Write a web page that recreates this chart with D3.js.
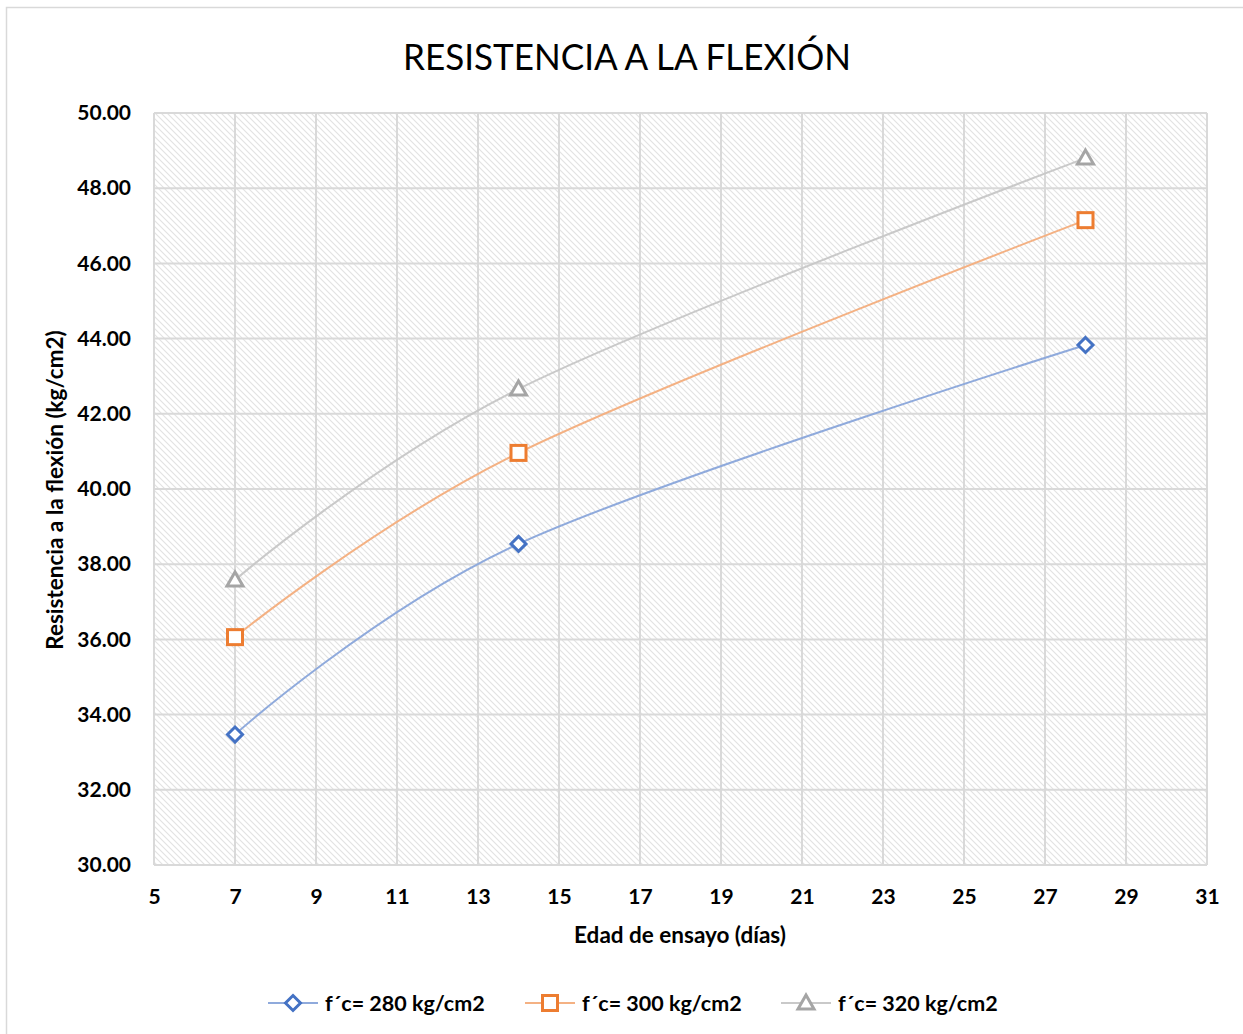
<!DOCTYPE html>
<html>
<head>
<meta charset="utf-8">
<script src="https://cdn.jsdelivr.net/npm/d3@7"></script>
<style>
  html, body { margin: 0; padding: 0; background: #fff; }
  svg { display: block; font-family: Lato, "Open Sans", sans-serif; }
</style>
</head>
<body>
<svg id="chart" width="1243" height="1034"></svg>
<script>
// Flexural strength by test age, one series per design strength
const ages = [7, 14, 28];
const s280 = [33.47, 38.54, 43.83];
const s300 = [36.06, 40.96, 47.15];
const s320 = [37.58, 42.66, 48.80];
const seriesNames = ["f\u00B4c= 280 kg/cm2", "f\u00B4c= 300 kg/cm2", "f\u00B4c= 320 kg/cm2"];
const xTicks = [5, 7, 9, 11, 13, 15, 17, 19, 21, 23, 25, 27, 29, 31];
const yTicks = [30, 32, 34, 36, 38, 40, 42, 44, 46, 48, 50];

const series = [
  { name: seriesNames[0], values: s280, marker: "#4472C4", line: "#8FAADC", shape: "diamond" },
  { name: seriesNames[1], values: s300, marker: "#ED7D31", line: "#F4B183", shape: "square" },
  { name: seriesNames[2], values: s320, marker: "#A5A5A5", line: "#C9C9C9", shape: "triangle" }
];

const svg = d3.select("#chart");
const W = 1243, H = 1034;
const plot = { left: 154, right: 1207, top: 113, bottom: 865 };

// outer chart frame
svg.append("rect").attr("x", 6.5).attr("y", 7.5).attr("width", W + 10).attr("height", H + 10)
  .attr("fill", "#fff").attr("stroke", "#d9d9d9").attr("stroke-width", 1.5);

// hatched plot background
const defs = svg.append("defs");
const pat = defs.append("pattern").attr("id", "hatch").attr("patternUnits", "userSpaceOnUse")
  .attr("width", 6).attr("height", 6);
pat.append("rect").attr("width", 6).attr("height", 6).attr("fill", "#fff");
pat.append("path").attr("d", "M-1,-1 L7,7 M-1,5 L1,7 M5,-1 L7,1")
  .attr("stroke", "#e2e2e2").attr("stroke-width", 1.1);

const x = d3.scaleLinear().domain([5, 31]).range([plot.left, plot.right]);
const y = d3.scaleLinear().domain([30, 50]).range([plot.bottom, plot.top]);

svg.append("rect").attr("x", plot.left).attr("y", plot.top)
  .attr("width", plot.right - plot.left).attr("height", plot.bottom - plot.top)
  .attr("fill", "url(#hatch)");

// gridlines
const grid = svg.append("g").attr("stroke", "#d9d9d9").attr("stroke-width", 2);
grid.selectAll(".gx").data(xTicks).join("line")
  .attr("x1", d => x(d)).attr("x2", d => x(d)).attr("y1", plot.top).attr("y2", plot.bottom);
grid.selectAll(".gy").data(yTicks).join("line")
  .attr("x1", plot.left).attr("x2", plot.right).attr("y1", d => y(d)).attr("y2", d => y(d));

// axes (labels only, Excel-style)
const xAxis = svg.append("g").attr("transform", `translate(0,${plot.bottom})`)
  .call(d3.axisBottom(x).tickValues(xTicks).tickSize(0).tickPadding(24).tickFormat(d3.format("d")));
const yAxis = svg.append("g").attr("transform", `translate(${plot.left},0)`)
  .call(d3.axisLeft(y).tickValues(yTicks).tickSize(0).tickPadding(23).tickFormat(d3.format(".2f")));
[xAxis, yAxis].forEach(a => {
  a.select(".domain").remove();
  a.selectAll("text").attr("font-family", "Lato, sans-serif").attr("font-weight", "bold")
    .attr("font-size", 21).attr("fill", "#000");
});

// titles
svg.append("text").attr("x", 627).attr("y", 70).attr("text-anchor", "middle")
  .attr("font-size", 37).attr("fill", "#000").attr("textLength", 448).attr("lengthAdjust", "spacingAndGlyphs")
  .text("RESISTENCIA A LA FLEXIÓN");
svg.append("text").attr("x", 680).attr("y", 943).attr("text-anchor", "middle")
  .attr("font-size", 22.5).attr("font-weight", "bold").attr("fill", "#000")
  .text("Edad de ensayo (días)");
svg.append("text").attr("transform", "translate(63,490) rotate(-90)").attr("text-anchor", "middle")
  .attr("font-size", 22.5).attr("font-weight", "bold").attr("fill", "#000")
  .text("Resistencia a la flexión (kg/cm2)");

// marker shapes
function marker(sel, shape, color) {
  if (shape === "diamond") {
    sel.append("path").attr("d", "M0,-7.5 L7.5,0 L0,7.5 L-7.5,0 Z");
  } else if (shape === "square") {
    sel.append("rect").attr("x", -7.5).attr("y", -7.5).attr("width", 15).attr("height", 15);
  } else {
    sel.append("path").attr("d", "M0,-8 L8,6 L-8,6 Z");
  }
  sel.selectAll("path,rect").attr("fill", "#fff").attr("stroke", color).attr("stroke-width", 3)
    .attr("stroke-linejoin", "miter");
}

const line = d3.line().x(d => x(d[0])).y(d => y(d[1])).curve(d3.curveCardinal.tension(0));

series.forEach(s => {
  const pts = ages.map((a, i) => [a, s.values[i]]);
  svg.append("path").datum(pts).attr("d", line).attr("fill", "none")
    .attr("stroke", s.line).attr("stroke-width", 2);
});
series.forEach(s => {
  ages.forEach((a, i) => {
    const g = svg.append("g").attr("transform", `translate(${x(a)},${y(s.values[i])})`);
    marker(g, s.shape, s.marker);
  });
});

// legend
const legendX = [268, 525, 781];
series.forEach((s, i) => {
  const g = svg.append("g").attr("transform", `translate(${legendX[i]},1003)`);
  g.append("line").attr("x1", 0).attr("x2", 50).attr("stroke", s.line).attr("stroke-width", 2);
  const m = g.append("g").attr("transform", "translate(25,0)");
  marker(m, s.shape, s.marker);
  g.append("text").attr("x", 57).attr("y", 7.5).attr("font-size", 21.5).attr("font-weight", "bold")
    .attr("fill", "#000").text(s.name);
});
</script>
</body>
</html>
